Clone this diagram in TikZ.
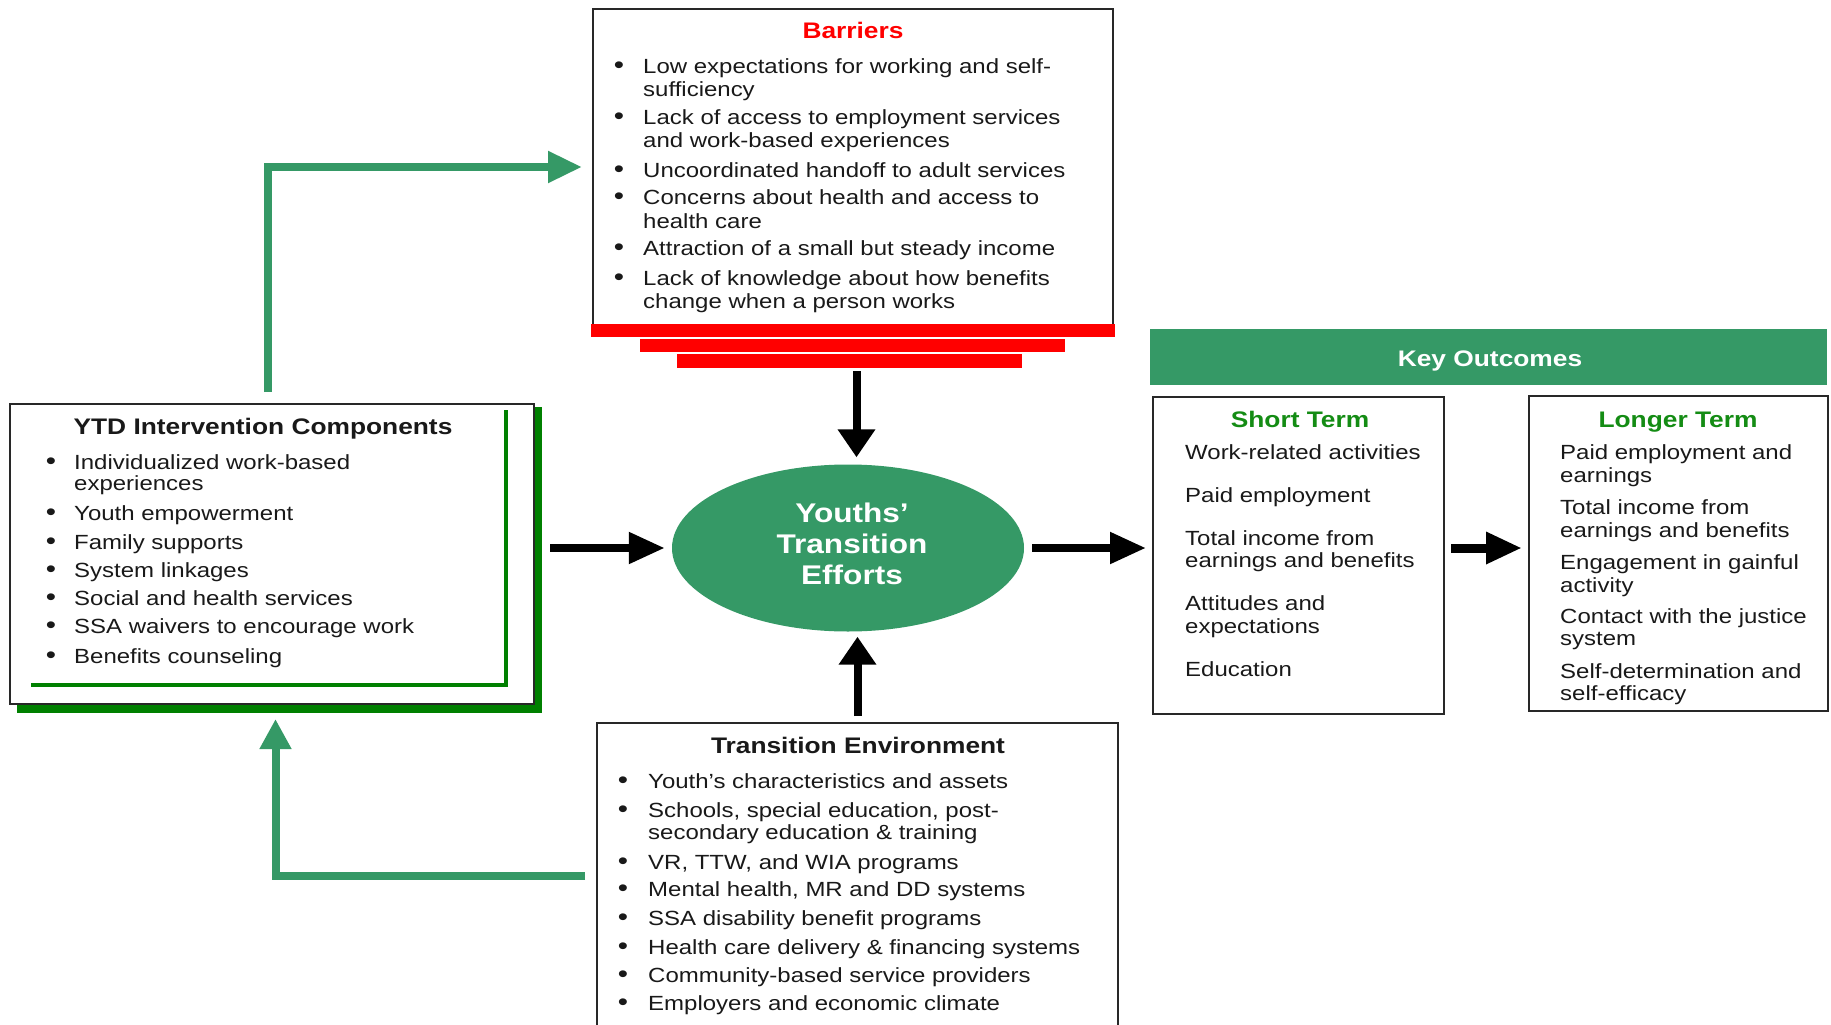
\documentclass[tikz,border=0pt]{standalone}
\usepackage{fontspec}
\setmainfont{Liberation Sans}[FakeStretch=1.17]
\usetikzlibrary{arrows.meta,shapes.geometric}
\definecolor{midgreen}{RGB}{53,153,102}
\definecolor{darkgreen}{RGB}{0,128,0}
\definecolor{ttlgreen}{RGB}{20,140,20}
\definecolor{boxgray}{RGB}{40,40,40}
\definecolor{barred}{RGB}{255,0,0}
\definecolor{txtgray}{RGB}{25,25,25}
\newcommand\bodyfs{\fontsize{20.5}{22}\selectfont}
\newcommand\titlefs{\fontsize{22.5}{24}\selectfont\bfseries}
\tikzset{
  boxst/.style={draw=boxgray, line width=2pt, fill=white, inner sep=0pt, rectangle},
  txtl/.style={anchor=base west, inner sep=0pt, font=\bodyfs, text=txtgray},
  bull/.style={anchor=base, inner sep=0pt, font=\fontsize{25}{25}\selectfont, text=txtgray},
  ttl/.style={anchor=base, inner sep=0pt, font=\titlefs, text=txtgray},
  rbar/.style={fill=barred, draw=none, inner sep=0pt, rectangle},
  barrowv/.style={line width=8pt, -{Triangle[length=28pt,width=36pt]}},
  barrowh/.style={line width=8pt, -{Triangle[length=36pt,width=30pt]}},
  garrow/.style={draw=midgreen, line width=8pt, line join=miter, -{Triangle[length=34pt,width=30pt]}, color=midgreen},
}
\begin{document}
\begin{tikzpicture}[x=1pt,y=-1pt]
\useasboundingbox[fill=white] (0,0) rectangle (1831,1025);

% ---------- YTD box ----------
\fill[darkgreen] (17,407) rectangle (542,713);
\node[boxst, minimum width=524pt, minimum height=300pt] (ytd) at (272,554) {};
\draw[darkgreen, line width=3.5pt] (31,685) -- (506,685) -- (506,410);
\node[ttl] (ytd-t) at (263,434) {YTD Intervention Components};
\node[bull] (ytd-b1) at (51,469) {•};
\node[txtl] (ytd-1a) at (74,469) {Individualized work-based};
\node[txtl] (ytd-1b) at (74,490) {experiences};
\node[bull] (ytd-b2) at (51,520) {•};
\node[txtl] (ytd-2) at (74,520) {Youth empowerment};
\node[bull] (ytd-b3) at (51,549) {•};
\node[txtl] (ytd-3) at (74,549) {Family supports};
\node[bull] (ytd-b4) at (51,577) {•};
\node[txtl] (ytd-4) at (74,577) {System linkages};
\node[bull] (ytd-b5) at (51,605) {•};
\node[txtl] (ytd-5) at (74,605) {Social and health services};
\node[bull] (ytd-b6) at (51,633) {•};
\node[txtl] (ytd-6) at (74,633) {SSA waivers to encourage work};
\node[bull] (ytd-b7) at (51,663) {•};
\node[txtl] (ytd-7) at (74,663) {Benefits counseling};

% ---------- Barriers box ----------
\node[boxst, minimum width=520pt, minimum height=316pt] (bar) at (853,167) {};
\node[ttl, text=barred] (bar-t) at (853,39) {Barriers};
\node[bull] (bar-b1) at (619,74) {•};
\node[txtl] (bar-1a) at (643,74) {Low expectations for working and self-};
\node[txtl] (bar-1b) at (643,96) {sufficiency};
\node[bull] (bar-b2) at (619,124) {•};
\node[txtl] (bar-2a) at (643,124) {Lack of access to employment services};
\node[txtl] (bar-2b) at (643,147) {and work-based experiences};
\node[bull] (bar-b3) at (619,177) {•};
\node[txtl] (bar-3) at (643,177) {Uncoordinated handoff to adult services};
\node[bull] (bar-b4) at (619,204) {•};
\node[txtl] (bar-4a) at (643,204) {Concerns about health and access to};
\node[txtl] (bar-4b) at (643,228) {health care};
\node[bull] (bar-b5) at (619,255) {•};
\node[txtl] (bar-5) at (643,255) {Attraction of a small but steady income};
\node[bull] (bar-b6) at (619,285) {•};
\node[txtl] (bar-6a) at (643,285) {Lack of knowledge about how benefits};
\node[txtl] (bar-6b) at (643,308) {change when a person works};
\node[rbar, minimum width=524pt, minimum height=13pt] (rb1) at (853,330.5) {};
\node[rbar, minimum width=425pt, minimum height=13pt] (rb2) at (852.5,345.5) {};
\node[rbar, minimum width=345pt, minimum height=14pt] (rb3) at (849.5,361) {};

% ---------- Transition Environment ----------
\node[boxst, minimum width=521pt, minimum height=306pt] (te) at (857.5,876) {};
\node[ttl] (te-t) at (858,753) {Transition Environment};
\node[bull] (te-b1) at (623,788) {•};
\node[txtl] (te-1) at (648,788) {Youth’s characteristics and assets};
\node[bull] (te-b2) at (623,817) {•};
\node[txtl] (te-2a) at (648,817) {Schools, special education, post-};
\node[txtl] (te-2b) at (648,839) {secondary education \& training};
\node[bull] (te-b3) at (623,869) {•};
\node[txtl] (te-3) at (648,869) {VR, TTW, and WIA programs};
\node[bull] (te-b4) at (623,896) {•};
\node[txtl] (te-4) at (648,896) {Mental health, MR and DD systems};
\node[bull] (te-b5) at (623,925) {•};
\node[txtl] (te-5) at (648,925) {SSA disability benefit programs};
\node[bull] (te-b6) at (623,954) {•};
\node[txtl] (te-6) at (648,954) {Health care delivery \& financing systems};
\node[bull] (te-b7) at (623,982) {•};
\node[txtl] (te-7) at (648,982) {Community-based service providers};
\node[bull] (te-b8) at (623,1010) {•};
\node[txtl] (te-8) at (648,1010) {Employers and economic climate};

% ---------- Ellipse ----------
\node[ellipse, fill=midgreen, draw=none, minimum width=352pt, minimum height=167pt, inner sep=0pt] (yte) at (848,548) {};
\node[text=white, align=center, inner sep=0pt, font=\fontsize{27}{31}\selectfont\bfseries] (yte-t) at (852,544)
      {Youths’\\Transition\\Efforts};

% ---------- Key outcomes ----------
\node[fill=midgreen, draw=none, minimum width=677pt, minimum height=56pt, inner sep=0pt] (ko) at (1488.5,357) {};
\node[ttl, text=white] (ko-t) at (1490,366) {Key Outcomes};
\node[boxst, minimum width=291pt, minimum height=317pt] (st) at (1298.5,555.5) {};
\node[ttl, text=ttlgreen] (st-t) at (1300,427) {Short Term};
\node[txtl] (st-1) at (1185,459) {Work-related activities};
\node[txtl] (st-2) at (1185,502) {Paid employment};
\node[txtl] (st-3a) at (1185,545) {Total income from};
\node[txtl] (st-3b) at (1185,567) {earnings and benefits};
\node[txtl] (st-4a) at (1185,610) {Attitudes and};
\node[txtl] (st-4b) at (1185,633) {expectations};
\node[txtl] (st-5) at (1185,676) {Education};

\node[boxst, minimum width=299pt, minimum height=315pt] (lt) at (1678.5,553.5) {};
\node[ttl, text=ttlgreen] (lt-t) at (1678,427) {Longer Term};
\node[txtl] (lt-1a) at (1560,459) {Paid employment and};
\node[txtl] (lt-1b) at (1560,482) {earnings};
\node[txtl] (lt-2a) at (1560,514) {Total income from};
\node[txtl] (lt-2b) at (1560,537) {earnings and benefits};
\node[txtl] (lt-3a) at (1560,569) {Engagement in gainful};
\node[txtl] (lt-3b) at (1560,592) {activity};
\node[txtl] (lt-4a) at (1560,623) {Contact with the justice};
\node[txtl] (lt-4b) at (1560,645) {system};
\node[txtl] (lt-5a) at (1560,678) {Self-determination and};
\node[txtl] (lt-5b) at (1560,700) {self-efficacy};

% ---------- Connectors ----------
\draw[barrowv, shorten <=3pt, shorten >=7pt] ([xshift=7pt]rb3.south) -- ([xshift=7pt]rb3.south |- yte.north);
\draw[barrowv, shorten <=6pt, shorten >=5pt] (te.north) -- (te.north |- yte.south);
\draw[barrowh] ([xshift=15pt]ytd.east |- yte.west) -- ([xshift=-7pt]yte.west);
\draw[barrowh] ([xshift=8pt]yte.east) -- ([xshift=-6pt]st.west |- yte.east);
\draw[barrowh, line width=9pt] ([xshift=6pt]st.east |- yte.east) -- ([xshift=-6pt]lt.west |- yte.east);

\draw[garrow] ([xshift=-4pt,yshift=11pt]ytd.north) |- ([xshift=-10pt]bar.west);
\draw[garrow, -{Triangle[length=30pt,width=30pt]}] ([xshift=-11pt]te.west) -| ([xshift=3.5pt,yshift=-14pt]ytd.south);
\end{tikzpicture}
\end{document}
